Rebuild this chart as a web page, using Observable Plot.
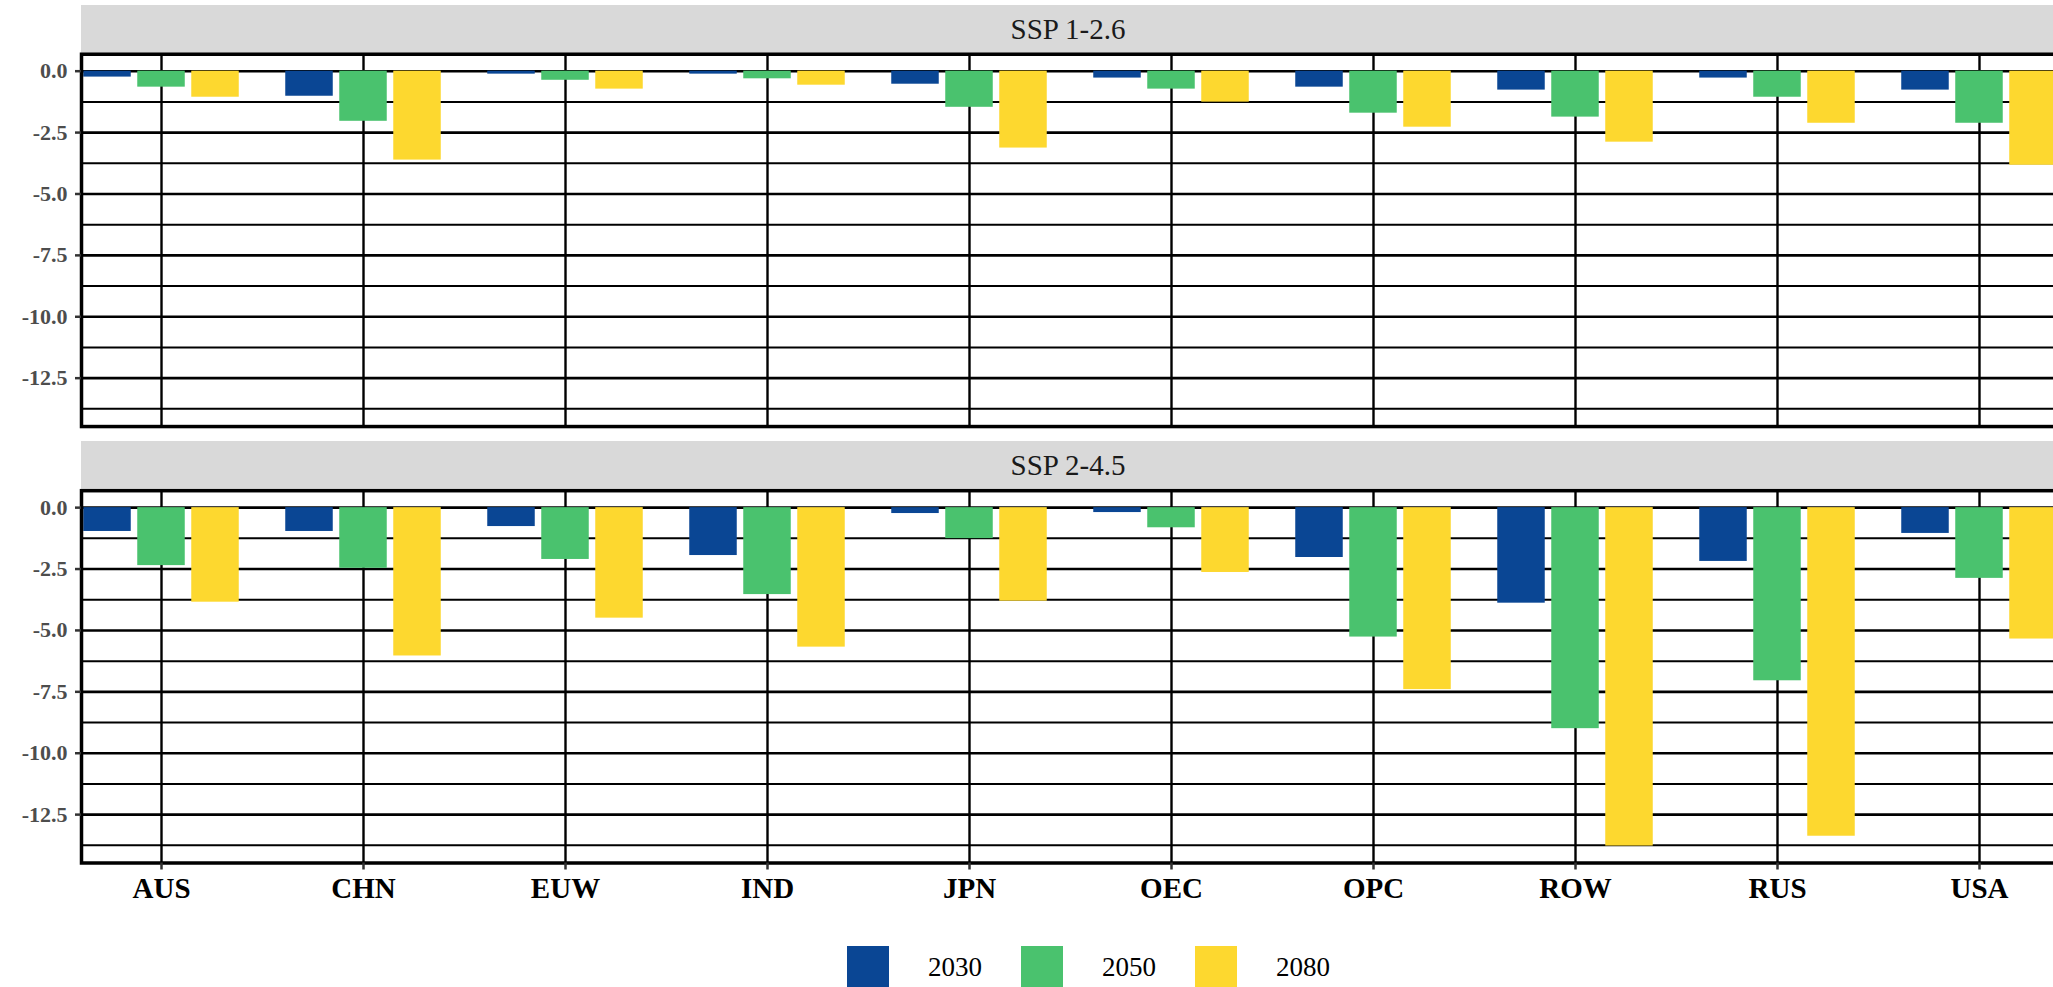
<!DOCTYPE html>
<html>
<head>
<meta charset="utf-8">
<script src="https://cdn.jsdelivr.net/npm/d3@7"></script>
<script src="https://cdn.jsdelivr.net/npm/@observablehq/plot@0.6"></script>
<style>
html, body { margin: 0; padding: 0; background: #fff; overflow: hidden; }
#root { position: relative; width: 2053px; height: 987px; overflow: hidden; background: #fff; }
.strip { position: absolute; left: 81px; width: 1974px; background: #D9D9D9; color: #1A1A1A;
  font-family: "Liberation Serif", serif; font-size: 29px; text-align: center; }
.panel { position: absolute; left: 0; }
#legend { position: absolute; left: 847px; top: 946px; }
#legend .lg-swatches { margin: 0 !important; min-height: 0 !important; font-family: "Liberation Serif", serif !important; font-size: 27px !important; color: #000 !important; }
#legend .lg-swatch { margin-right: 39px !important; font-size: 27px !important; }
#legend .lg-swatch > svg { margin-right: 39px !important; }
</style>
</head>
<body>
<div id="root"></div>
<script>
// ---- data ----
const regions = ["AUS", "CHN", "EUW", "IND", "JPN", "OEC", "OPC", "ROW", "RUS", "USA"];
const years = ["2030", "2050", "2080"];
const scenarios = ["SSP 1-2.6", "SSP 2-4.5"];
const colors = ["#0A4694", "#4AC26E", "#FDD82F"];

const ssp126_2030 = [-0.24, -1.02, -0.12, -0.12, -0.53, -0.28, -0.65, -0.77, -0.28, -0.77];
const ssp126_2050 = [-0.65, -2.04, -0.37, -0.31, -1.47, -0.73, -1.71, -1.87, -1.06, -2.12];
const ssp126_2080 = [-1.06, -3.62, -0.73, -0.57, -3.13, -1.26, -2.28, -2.89, -2.12, -3.83];

const ssp245_2030 = [-0.97, -0.97, -0.77, -1.95, -0.24, -0.20, -2.03, -3.89, -2.19, -1.05];
const ssp245_2050 = [-2.36, -2.47, -2.11, -3.54, -1.26, -0.82, -5.27, -9.00, -7.05, -2.88];
const ssp245_2080 = [-3.85, -6.04, -4.50, -5.68, -3.81, -2.64, -7.41, -13.78, -13.38, -5.35];

const majorTicks = [0, -2.5, -5, -7.5, -10, -12.5];
const minorTicks = [-1.25, -3.75, -6.25, -8.75, -11.25, -13.75];

// ---- layout ----
const W = 2060;
const panelH = 372.3;
const yDomain = [-14.47, 0.69];
const xRange = [58.9, 2081.1];
const dodge = [-54, 0, 54];
const inset = 77.25;
const FONT = "Liberation Serif";

function makeTable(series) {
  const rows = [];
  years.forEach((yr, j) => regions.forEach((r, i) => rows.push({region: r, year: yr, value: series[j][i]})));
  return rows;
}

function panel(series, showX, mt, mb) {
  const data = makeTable(series);
  const bars = years.map((yr, j) => Plot.barY(data.filter(d => d.year === yr), {
    x: "region", y: "value", fill: "year", dx: dodge[j], insetLeft: inset, insetRight: inset
  }));
  const marks = [
    Plot.ruleY(minorTicks, {stroke: "#000", strokeWidth: 2}),
    Plot.ruleY(majorTicks, {stroke: "#000", strokeWidth: 2.6}),
    Plot.ruleX(regions, {x: d => d, stroke: "#000", strokeWidth: 2.4}),
    ...bars,
    Plot.frame({stroke: "#000", strokeWidth: 3.5}),
    Plot.axisY({ticks: majorTicks, tickFormat: d => d.toFixed(1), tickSize: 6, tickPadding: 8,
      fontSize: 22, fontWeight: "bold", fontFamily: FONT, fill: "#4D4D4D", stroke: "#333", strokeWidth: 2.5, label: null})
  ];
  if (showX) {
    marks.push(Plot.axisX({tickSize: 7, tickPadding: 7, fontSize: 29, fontWeight: "bold", fontFamily: FONT,
      fill: "#000", stroke: "#333", strokeWidth: 2.5, label: null}));
  }
  return Plot.plot({
    width: W, height: mt + panelH + mb,
    marginTop: mt, marginBottom: mb, marginLeft: 81, marginRight: 0,
    style: "background: transparent; max-width: none; font-family: 'Liberation Serif', serif;",
    x: {type: "band", domain: regions, range: xRange, padding: 0, axis: showX ? undefined : null, label: null},
    y: {domain: yDomain, label: null},
    color: {domain: years, range: colors},
    marks
  });
}

const root = document.getElementById("root");

function addStrip(text, top, h) {
  const s = document.createElement("div");
  s.className = "strip";
  s.style.top = top + "px";
  s.style.height = h + "px";
  s.style.lineHeight = h + "px";
  s.textContent = text;
  root.appendChild(s);
}

addStrip(scenarios[0], 5, 48.5);
addStrip(scenarios[1], 441, 49);

const p1 = panel([ssp126_2030, ssp126_2050, ssp126_2080], false, 53.75, 6);
const w1 = document.createElement("div");
w1.className = "panel"; w1.style.top = "0px";
w1.appendChild(p1);
root.appendChild(w1);

const p2 = panel([ssp245_2030, ssp245_2050, ssp245_2080], true, 58.2, 50);
const w2 = document.createElement("div");
w2.className = "panel"; w2.style.top = "432px";
w2.appendChild(p2);
root.appendChild(w2);

const lg = Plot.legend({color: {domain: years, range: colors}, legend: "swatches", swatchSize: 42, className: "lg"});
const lw = document.createElement("div");
lw.id = "legend";
lw.appendChild(lg);
root.appendChild(lw);
</script>
</body>
</html>
